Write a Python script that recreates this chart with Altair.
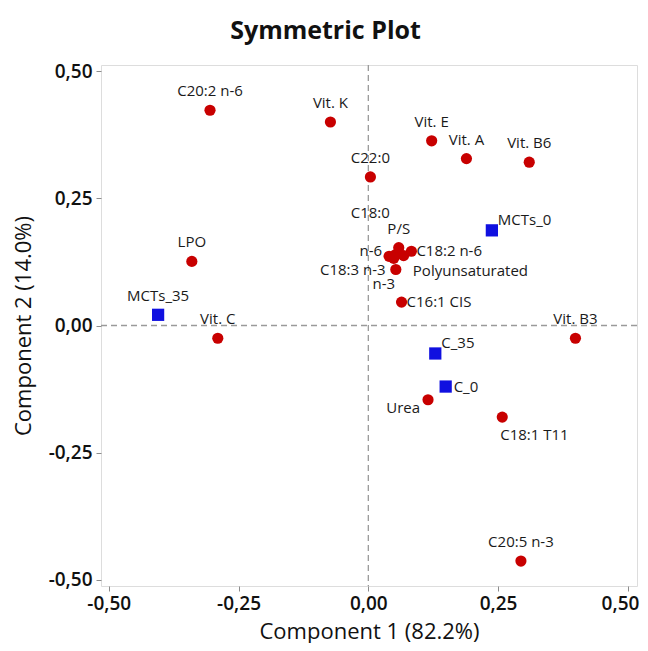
import altair as alt
import pandas as pd

labels = ["C20:2 n-6", "Vit. K", "Vit. E", "Vit. A", "Vit. B6", "C22:0",
          "C18:0", "P/S", "n-6", "C18:2 n-6", "C18:3 n-3", "n-3",
          "Polyunsaturated", "C16:1  CIS", "LPO", "Vit. C", "Vit. B3",
          "Urea", "C18:1 T11", "C20:5 n-3",
          "MCTs_0", "MCTs_35", "C_35", "C_0"]
comp1 = [-0.305, -0.073, 0.122, 0.189, 0.310, 0.004,
         0.052, 0.0586, 0.040, 0.083, 0.068, 0.049,
         0.053, 0.064, -0.340, -0.290, 0.399,
         0.115, 0.258, 0.294,
         0.238, -0.405, 0.129, 0.149]
comp2 = [0.423, 0.400, 0.363, 0.328, 0.321, 0.292,
         0.139, 0.153, 0.136, 0.146, 0.1375, 0.132,
         0.110, 0.046, 0.126, -0.025, -0.025,
         -0.146, -0.180, -0.463,
         0.187, 0.021, -0.055, -0.120]
kind = ["Variable"] * 20 + ["Treatment"] * 4
place = ["top", "top", "top", "top", "top", "top",
         "c180", "top", "n6", "right", "c183", "n3",
         "rightfar", "right", "top", "top", "top",
         "leftbelow", "belowright", "top",
         "topright", "top", "topright", "rightsq"]

ticks = [-0.50, -0.25, 0.00, 0.25, 0.50]

df = pd.DataFrame({"label": labels, "c1": comp1, "c2": comp2,
                   "kind": kind, "place": place})

FONT = "Open Sans"
label_expr = "(datum.value < 0 ? '-' : '') + replace(format(abs(datum.value), '.2f'), '.', ',')"

xscale = alt.Scale(domain=[-0.515, 0.5176], nice=False, zero=False)
yscale = alt.Scale(domain=[-0.512, 0.512], nice=False, zero=False)

xaxis = alt.Axis(values=ticks, labelExpr=label_expr, grid=False, domain=False,
                 tickSize=5, tickColor="#8c8c8c", labelFontSize=19,
                 labelFontWeight=600, labelColor="#111", labelPadding=3,
                 labelAlign={"condition": {"test": "datum.value >= 0.5", "value": "right"},
                             "value": "center"},
                 labelOffset={"condition": {"test": "datum.value >= 0.5", "value": 11},
                              "value": 0},
                 title="Component 1 (82.2%)", titleFontSize=22,
                 titleFontWeight="normal", titleColor="#111", titlePadding=8,
                 labelFont=FONT, titleFont=FONT)
yaxis = alt.Axis(values=ticks, labelExpr=label_expr, grid=False, domain=False,
                 tickSize=5, tickColor="#8c8c8c", labelFontSize=19,
                 labelFontWeight=600, labelColor="#111", labelPadding=4,
                 title="Component 2 (14.0%)", titleFontSize=22,
                 titleFontWeight="normal", titleColor="#111", titlePadding=13,
                 labelFont=FONT, titleFont=FONT)

base = alt.Chart(df)
X = alt.X("c1:Q", scale=xscale, axis=xaxis)
Y = alt.Y("c2:Q", scale=yscale, axis=yaxis)

zero_df = pd.DataFrame({"z": [0.0]})
vrule = alt.Chart(zero_df).mark_rule(color="#9a9a9a", strokeDash=[6, 4], strokeWidth=1.3).encode(
    x=alt.X("z:Q", scale=xscale, axis=xaxis))
hrule = alt.Chart(zero_df).mark_rule(color="#9a9a9a", strokeDash=[6, 4], strokeWidth=1.3).encode(
    y=alt.Y("z:Q", scale=yscale, axis=yaxis))

circles = base.transform_filter(alt.datum.kind == "Variable").mark_point(
    shape="circle", filled=True, size=125, color="#c80000", opacity=1).encode(x=X, y=Y)
squares = base.transform_filter(alt.datum.kind == "Treatment").mark_point(
    shape="square", filled=True, size=150, color="#1010e0", opacity=1).encode(x=X, y=Y)

placements = {
    "top": dict(align="center", dx=0, dy=-19),
    "right": dict(align="left", dx=5, dy=0),
    "rightsq": dict(align="left", dx=8, dy=0),
    "rightfar": dict(align="left", dx=17, dy=1),
    "n6": dict(align="right", dx=-7, dy=-5),
    "topright": dict(align="left", dx=6, dy=-10),
    "leftbelow": dict(align="right", dx=-8, dy=8),
    "belowright": dict(align="left", dx=-2, dy=18),
    "n3": dict(align="center", dx=-10, dy=26),
    "c183": dict(align="right", dx=-18, dy=14),
    "c180": dict(align="center", dx=-25, dy=-42),
}
texts = []
for key, opt in placements.items():
    texts.append(base.transform_filter(alt.datum.place == key).mark_text(
        baseline="middle", fontSize=15, font=FONT, color="#1a1a1a", **opt
    ).encode(x=X, y=Y, text="label:N"))

chart = alt.layer(vrule, hrule, circles, squares, *texts).properties(
    width=536, height=521,
    title=alt.TitleParams("Symmetric Plot", fontSize=25, font=FONT,
                          fontWeight="bold", color="#111", anchor="middle",
                          frame="bounds", offset=18),
    autosize=alt.AutoSizeParams(type="none"),
    padding={"left": 93, "top": 57, "right": 3, "bottom": 57},
).configure_view(stroke="#a6a6a6", strokeWidth=1.5).configure(background="white")

chart.save("out.html", embed_options={"renderer": "svg", "actions": False})
